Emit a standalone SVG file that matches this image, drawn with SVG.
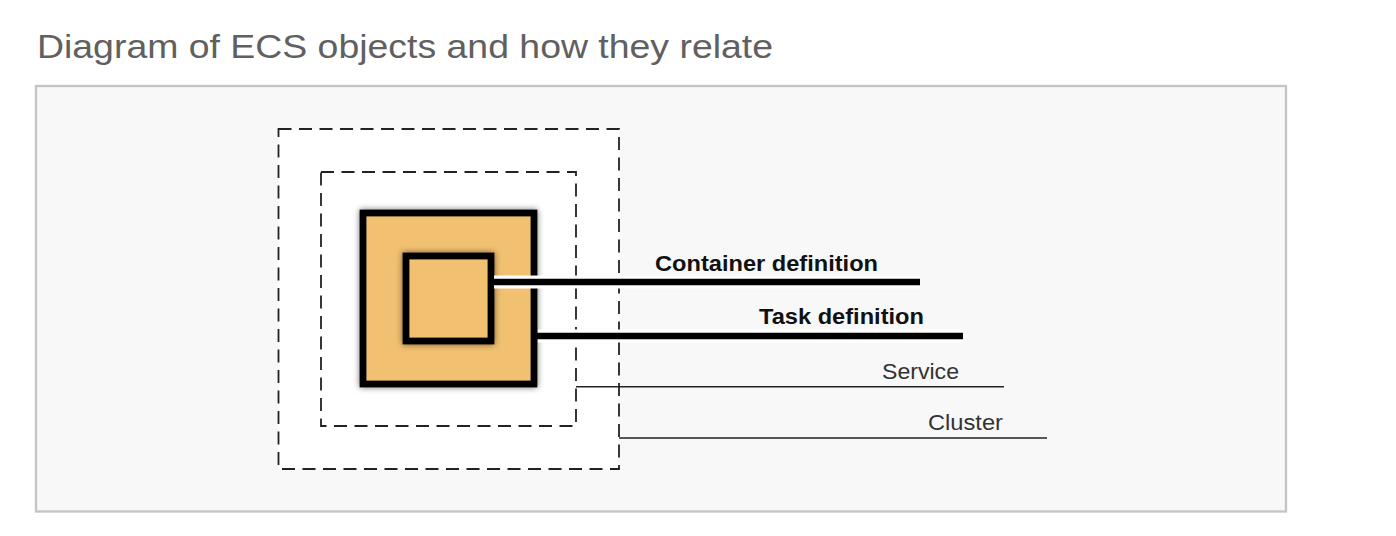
<svg xmlns="http://www.w3.org/2000/svg" width="1396" height="536" viewBox="0 0 1396 536">
  <style>
    .title { font-family: "Liberation Sans", Arial, sans-serif; font-size: 34px; fill: #606060; }
    .lbl-b { font-family: "Liberation Sans", Arial, sans-serif; font-size: 22px; font-weight: bold; fill: #111; }
    .lbl { font-family: "Liberation Sans", Arial, sans-serif; font-size: 22px; fill: #333; }
    .dash { fill: none; stroke: #222; stroke-width: 1.8; stroke-dasharray: 13 7.5; }
    .box { fill: #f1c06f; stroke: #000; stroke-width: 6.8; }
    .halo { stroke: #fff; stroke-width: 13; fill: none; }
    .thick { stroke: #000; stroke-width: 6.5; fill: none; }
    .thin { stroke: #222; stroke-width: 1.5; fill: none; }
  </style>
  <defs>
    <filter id="glow" x="-20%" y="-20%" width="140%" height="140%">
      <feDropShadow dx="0" dy="0" stdDeviation="3" flood-color="#000" flood-opacity="0.55"/>
    </filter>
  </defs>
  <rect width="1396" height="536" fill="#ffffff"/>
  <text class="title" x="37" y="57.5" textLength="736" lengthAdjust="spacingAndGlyphs">Diagram of ECS objects and how they relate</text>
  <rect x="36" y="86" width="1250" height="425.5" fill="#f8f8f8" stroke="#c4c4c4" stroke-width="2.3"/>

  <g id="cluster">
    <rect x="278.5" y="129" width="340.5" height="340" fill="#ffffff"/>
    <rect class="dash" x="278.5" y="129" width="340.5" height="340"/>
  </g>
  <g id="service">
    <rect class="dash" x="321" y="172" width="255" height="254"/>
  </g>
  <g id="task-definition">
    <rect class="box" x="363" y="213" width="171" height="171" filter="url(#glow)"/>
  </g>
  <g id="container-definition">
    <rect class="box" x="406" y="256" width="85" height="85" filter="url(#glow)"/>
  </g>

  <g id="connectors">
    <line class="halo" x1="494" y1="282" x2="920" y2="282"/>
    <line class="thick" x1="491" y1="282" x2="920" y2="282"/>
    <line class="halo" x1="538" y1="336" x2="963" y2="336"/>
    <line class="thick" x1="534" y1="336" x2="963" y2="336"/>
    <line class="thin" x1="576" y1="386.7" x2="1004" y2="386.7"/>
    <line class="thin" x1="619" y1="438" x2="1047" y2="438"/>
  </g>

  <g id="labels">
    <text class="lbl-b" x="655" y="271" textLength="223" lengthAdjust="spacingAndGlyphs">Container definition</text>
    <text class="lbl-b" x="759" y="323.5" textLength="165" lengthAdjust="spacingAndGlyphs">Task definition</text>
    <text class="lbl" x="882" y="378.5" textLength="77" lengthAdjust="spacingAndGlyphs">Service</text>
    <text class="lbl" x="928" y="430" textLength="75" lengthAdjust="spacingAndGlyphs">Cluster</text>
  </g>
</svg>
